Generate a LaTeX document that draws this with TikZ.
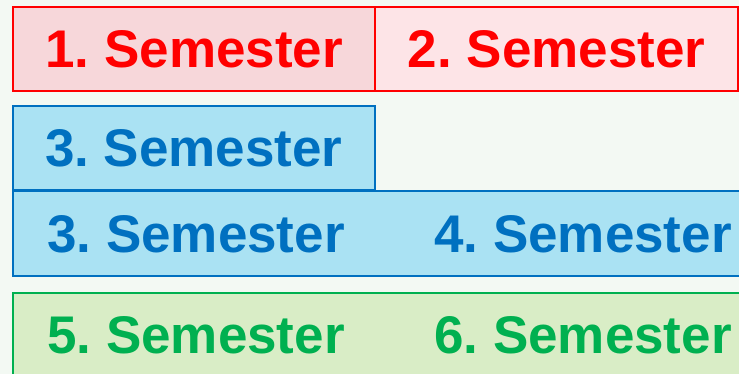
\documentclass[tikz,border=0pt]{standalone}
\usepackage{fontspec}
\setmainfont{Liberation Sans}
\frenchspacing
\definecolor{bg}{HTML}{F3F9F3}
\definecolor{redline}{HTML}{FF0000}
\definecolor{redfillA}{HTML}{F7D7DA}
\definecolor{redfillB}{HTML}{FDE4E7}
\definecolor{blueline}{HTML}{0070C0}
\definecolor{bluefill}{HTML}{AAE2F3}
\definecolor{greenline}{HTML}{00B050}
\definecolor{greenfill}{HTML}{D9EDC6}
\tikzset{
  semlabel/.style={font=\fontsize{53}{53}\selectfont\bfseries\frenchspacing, inner sep=0pt},
  redbox/.style={draw=redline, line width=2.2pt, anchor=north west, inner sep=0pt, text=redline, semlabel},
  bluebox/.style={draw=blueline, line width=1.8pt, fill=bluefill, anchor=north west, inner sep=0pt},
  greenbox/.style={draw=greenline, line width=1.8pt, fill=greenfill, anchor=north west, inner sep=0pt},
}
\begin{document}
\begin{tikzpicture}[x=1pt,y=-1pt]
\useasboundingbox (0,0) rectangle (739,374);
\fill[bg] (0,0) rectangle (739,374);
\clip (0,0) rectangle (739,374);
% red row
\node[redbox, fill=redfillA, minimum width=362pt, minimum height=84pt] (s1) at (12,6) {1. Semester};
\node[redbox, fill=redfillB, minimum width=363pt, minimum height=84pt] (s2) at (374,6) {2. Semester};
% blue small
\node[bluebox, minimum width=362pt, minimum height=84pt, text=blueline, semlabel] (s3a) at (12,105) {3. Semester};
% blue wide
\node[bluebox, minimum width=740pt, minimum height=85pt] (bw) at (12,190) {};
\node[semlabel, text=blueline] (s3b) at (196,234) {3. Semester};
\node[semlabel, text=blueline] (s4) at (583,234) {4. Semester};
% green wide
\node[greenbox, minimum width=740pt, minimum height=100pt] (gw) at (12,292) {};
\node[semlabel, text=greenline] (s5) at (196,335) {5. Semester};
\node[semlabel, text=greenline] (s6) at (583,335) {6. Semester};
\end{tikzpicture}
\end{document}
